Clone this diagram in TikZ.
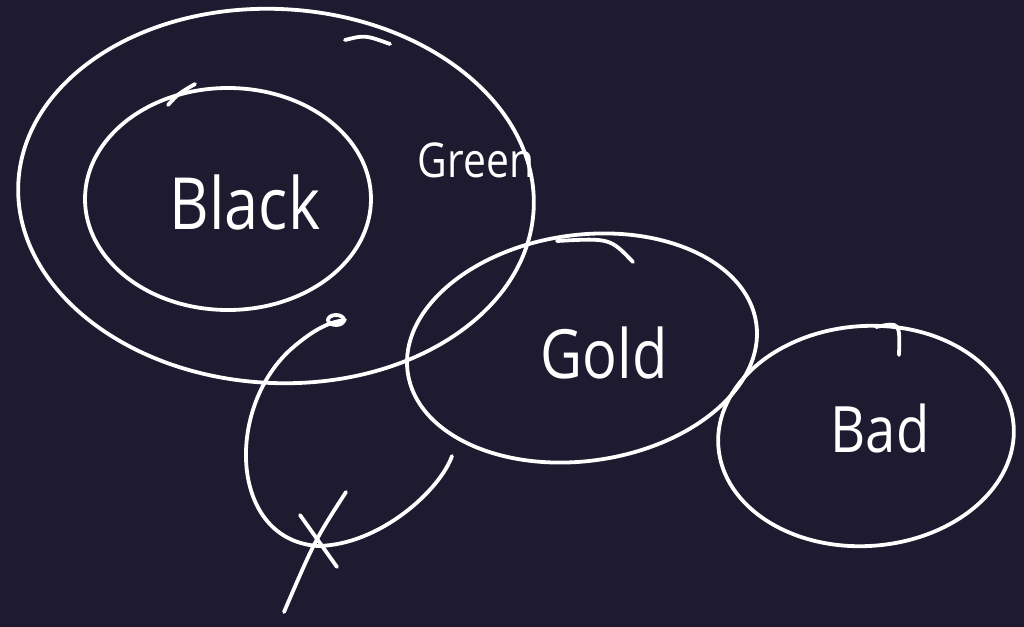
\documentclass[tikz,border=0pt]{standalone}
\usepackage{fontspec}
\setmainfont{Open Sans}
\usetikzlibrary{positioning}
\definecolor{board}{HTML}{1E1A2F}

\begin{document}
\begin{tikzpicture}[
  x=0.5pt,y=-0.5pt,
  ink/.style={draw=white,line width=1.9pt,line cap=round,line join=round},
  word/.style={text=white,inner sep=0pt,font=\fontsize{#1}{#1}\selectfont,xscale=0.85},
]
\useasboundingbox[fill=board] (0,0) rectangle (1024,627);

% sets
\draw[ink,rotate around={-3:(276,196)}] (276,196) ellipse [x radius=258,y radius=187];
\draw[ink] (345,40) .. controls (365,35) .. (390,44);
\draw[ink] (228,199) ellipse [x radius=143,y radius=111];
\draw[ink] (168,105) .. controls (178,94) .. (195,84);
\draw[ink,rotate around={8:(582,348)}] (582,348) ellipse [x radius=176,y radius=113];
\draw[ink] (557,241) .. controls (610,238) .. (633,262);
\draw[ink,rotate around={4:(866,436)}] (866,436) ellipse [x radius=148,y radius=110];
\draw[ink] (876,327) .. controls (900,322) .. (899,355);

% loose loop with cross
\draw[ink] (452,456) .. controls (440,490) and (380,545) .. (318,546)
  .. controls (230,540) and (225,410) .. (290,350)
  .. controls (315,328) and (330,322) .. (345,320);
\draw[ink] (336,320) circle [x radius=8,y radius=5];
\draw[ink] (300,515) -- (337,567);
\draw[ink] (346,492) .. controls (315,540) .. (284,612);

% labels
\node (black) [word=36] at (245,202) {Black};
\node (green) [word=24] at (476,160) {Green};
\node (gold) [word=34] at (604,353) {Gold};
\node (bad) [word=32] at (880,428) {Bad};
\end{tikzpicture}
\end{document}
